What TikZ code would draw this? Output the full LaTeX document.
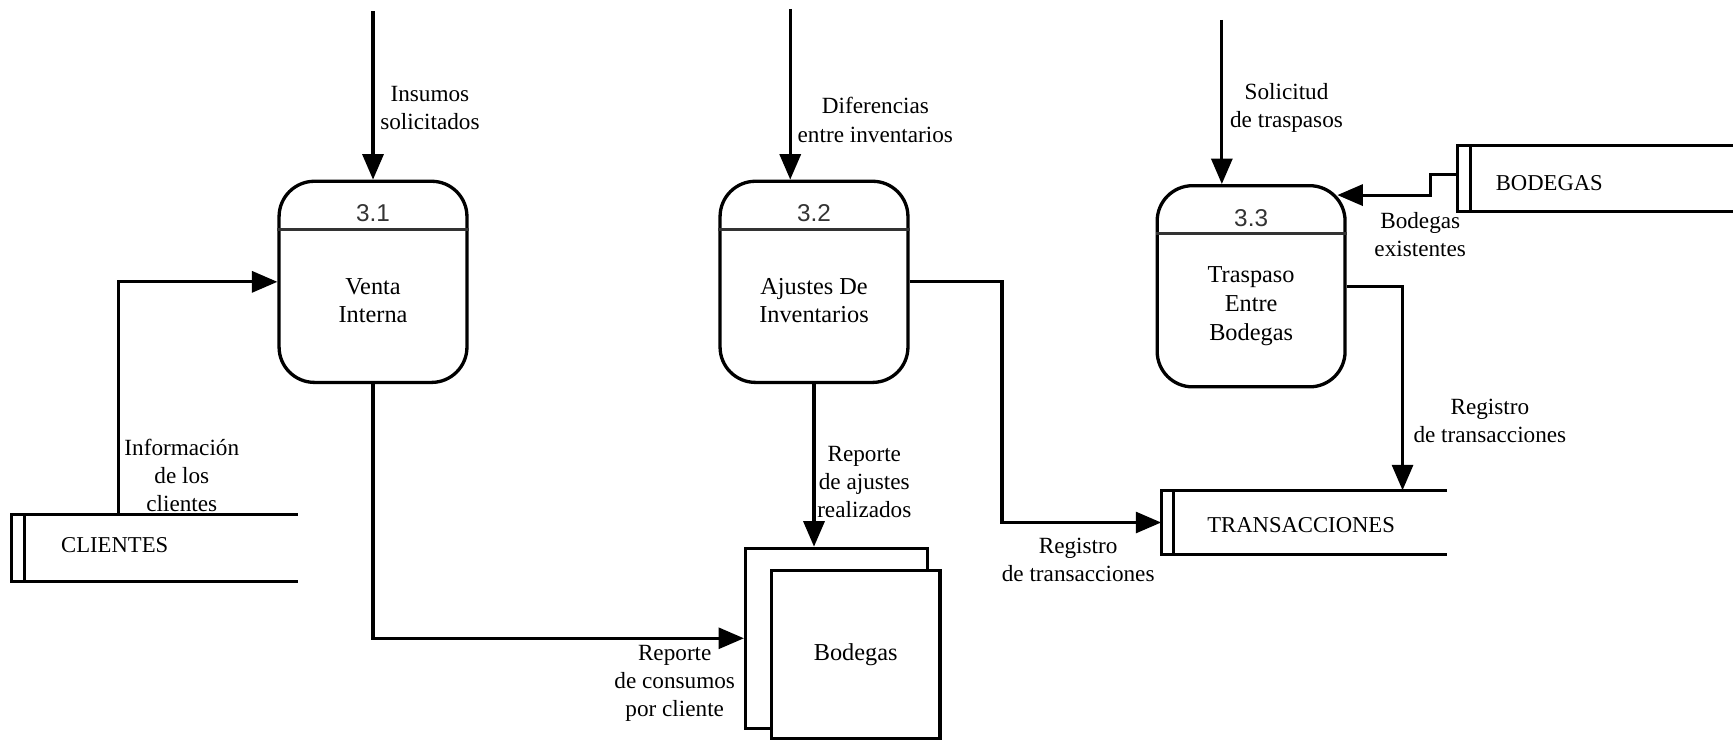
\documentclass[tikz,border=0pt]{standalone}
\usepackage{fontspec}
\setmainfont{Liberation Serif}
\newfontfamily\numfont{Liberation Sans}
\usetikzlibrary{arrows.meta}
\begin{document}
\begin{tikzpicture}[x=1pt,y=-1pt,
  line width=2.8pt,
  flow/.style={-{Triangle[length=23pt,width=19pt]}},
  proc/.style={draw, line width=3pt, rounded corners=32pt, minimum width=170pt, minimum height=182pt, inner sep=0pt},
  lbl/.style={font=\fontsize{21}{25.5}\selectfont, align=center, inner sep=0pt},
  ptxt/.style={font=\fontsize{22}{26}\selectfont, align=center, inner sep=0pt},
  pnum/.style={font=\numfont\fontsize{22}{26}\selectfont, inner sep=0pt, text=black!80},
  divider/.style={line width=2.4pt, draw=black!80},
  store/.style={minimum width=#1, minimum height=57pt, inner sep=0pt},
  stxt/.style={font=\fontsize{20.5}{24}\selectfont, anchor=west, inner sep=0pt},
  doc/.style={draw, fill=white, inner sep=0pt}
]
\useasboundingbox (0,0) rectangle (1568,670);

% processes
\node[proc] (p31) at (337.5,255) {};
\node[proc] (p32) at (736.5,255) {};
\node[proc] (p33) at (1132,259) {};
\draw[divider] ([yshift=-45pt]p31.north west) -- ([yshift=-45pt]p31.north east);
\draw[divider] ([yshift=-45pt]p32.north west) -- ([yshift=-45pt]p32.north east);
\draw[divider] ([yshift=-45pt]p33.north west) -- ([yshift=-45pt]p33.north east);
\node[pnum] (n31) at (337.5,193) {3.1};
\node[pnum] (n32) at (736.5,193) {3.2};
\node[pnum] (n33) at (1132,197) {3.3};
\node[ptxt] (t31) at (337.5,272) {Venta\\Interna};
\node[ptxt] (t32) at (736.5,272) {Ajustes De\\Inventarios};
\node[ptxt] (t33) at (1132,277) {Traspaso\\Entre\\Bodegas};

% data stores (open on the right)
\node[store=256pt, minimum height=58pt] (cli) at (140,496) {};
\node[store=256pt, minimum height=55.5pt] (trans) at (1180,472.75) {};
\node[store=248pt] (bst) at (1444,161.5) {};
\foreach \s in {cli,trans,bst}{
  \draw (\s.north east) -- (\s.north west) -- (\s.south west) -- (\s.south east);
  \draw ([xshift=11.5pt]\s.north west) -- ([xshift=11.5pt]\s.south west);
}
\node[stxt] (clitxt) at (54,493) {CLIENTES};
\node[stxt] (transtxt) at (1091,475) {TRANSACCIONES};
\node[stxt] (bsttxt) at (1352,166) {BODEGAS};

% external entity Bodegas (stacked sheets)
\node[doc, minimum width=164.5pt, minimum height=163pt] (bodb) at (756.75,577.5) {};
\node[doc, minimum width=152.5pt, minimum height=151.6pt, font=\fontsize{22}{26}\selectfont] (bodf) at (774.25,592.2) {Bodegas};

% flows
\coordinate (i0) at (337.5,10);
\coordinate (d0) at (715,8);
\coordinate (s0) at (1105.5,18);
\coordinate (b33tip) at (1210,176.5);

\draw[flow] (i0) -- (p31.north);
\draw[flow] (d0) -- (d0 |- p32.north);
\draw[flow] (s0) -- (s0 |- p33.north);
\draw[flow] ([xshift=-33pt]cli.north) |- (p31.west);
\draw[flow] (p31.south) |- (bodb.west);
\draw[flow] (p32.south) -- (p32.south |- bodb.north);
\draw[flow] (p32.east) -| ([xshift=-144pt]trans.west) -- (trans.west);
\draw[flow] (p33.east) -| ([xshift=89pt]trans.north);
\draw[flow] ([yshift=4pt]bst.west) -- ++(-24,0) |- (b33tip);

% flow labels
\node[lbl] (l1) at (389,98) {Insumos\\solicitados};
\node[lbl] (l2) at (792,108.5) {Diferencias\\entre inventarios};
\node[lbl] (l3) at (1164,98) {Solicitud\\de traspasos};
\node[lbl] (l4) at (1285,212) {Bodegas\\existentes};
\node[lbl] (l5) at (164.5,430) {Información\\de los\\clientes};
\node[lbl] (l6) at (782,436) {Reporte\\de ajustes\\realizados};
\node[lbl] (l7) at (610.5,618.5) {Reporte\\de consumos\\por cliente};
\node[lbl] (l8) at (975.5,506.5) {Registro\\de transacciones};
\node[lbl] (l9) at (1348,381) {Registro\\de transacciones};
\end{tikzpicture}
\end{document}
